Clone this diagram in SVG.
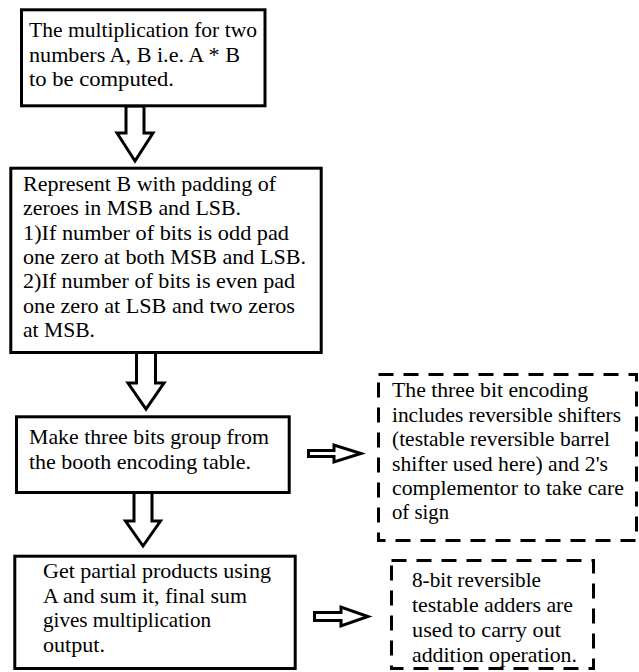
<svg xmlns="http://www.w3.org/2000/svg" width="639" height="672" viewBox="0 0 639 672">
<style>
.box{fill:#fff;stroke:#000;stroke-width:3}
.dbox{fill:#fff;stroke:#000;stroke-width:3;stroke-dasharray:15 10}
.arr{fill:#fff;stroke:#000;stroke-width:3;stroke-linejoin:miter}
text{font-family:"Liberation Serif","Times New Roman",serif;font-size:21.5px;fill:#000}
</style>
<rect width="639" height="672" fill="#fff"/>
<g id="connectors">
<polygon class="arr" points="126,106 144,106 144,133 153,133 135,161 117,133 126,133"/>
<polygon class="arr" points="136.5,352 155.5,352 155.5,383 164,383 146,409 128,383 136.5,383"/>
<polygon class="arr" points="134,492 152,492 152,521 160.5,521 143,546 125.5,521 134,521"/>
<polygon class="arr" points="308.5,450.5 334,450.5 334,445 361,453.5 334,462 334,456.5 308.5,456.5"/>
<polygon class="arr" points="314.5,612.5 341,612.5 341,607 368,616.5 341,626 341,620.5 314.5,620.5"/>
</g>
<g id="node1" font-family="Liberation Serif, serif">
<rect class="box" x="21.5" y="9.8" width="243.5" height="96"/>
<text x="29" y="37" textLength="228" lengthAdjust="spacingAndGlyphs">The multiplication for two</text>
<text x="29" y="61.5" textLength="211" lengthAdjust="spacingAndGlyphs">numbers A, B i.e. A * B</text>
<text x="29" y="86" textLength="145" lengthAdjust="spacingAndGlyphs">to be computed.</text>
</g>
<g id="node2" font-family="Liberation Serif, serif">
<rect class="box" x="10.8" y="168.2" width="310.4" height="184.3"/>
<text x="23" y="190.7" textLength="253" lengthAdjust="spacingAndGlyphs">Represent B with padding of</text>
<text x="23" y="215" textLength="218" lengthAdjust="spacingAndGlyphs">zeroes in MSB and LSB.</text>
<text x="23" y="239.5" textLength="266" lengthAdjust="spacingAndGlyphs">1)If number of bits is odd pad</text>
<text x="23" y="263.5" textLength="283" lengthAdjust="spacingAndGlyphs">one zero at both MSB and LSB.</text>
<text x="23" y="288" textLength="272" lengthAdjust="spacingAndGlyphs">2)If number of bits is even pad</text>
<text x="23" y="312.5" textLength="272" lengthAdjust="spacingAndGlyphs">one zero at LSB and two zeros</text>
<text x="23" y="336.7" textLength="72" lengthAdjust="spacingAndGlyphs">at MSB.</text>
</g>
<g id="node3" font-family="Liberation Serif, serif">
<rect class="box" x="16.5" y="416.8" width="272.7" height="75.7"/>
<text x="29" y="444" textLength="240" lengthAdjust="spacingAndGlyphs">Make three bits group from</text>
<text x="29" y="468.5" textLength="222" lengthAdjust="spacingAndGlyphs">the booth encoding table.</text>
</g>
<g id="note1" font-family="Liberation Serif, serif">
<rect class="dbox" x="378.5" y="374.5" width="258" height="166"/>
<text x="392" y="397.3" textLength="196" lengthAdjust="spacingAndGlyphs">The three bit encoding</text>
<text x="392" y="422" textLength="229" lengthAdjust="spacingAndGlyphs">includes reversible shifters</text>
<text x="392" y="446" textLength="218" lengthAdjust="spacingAndGlyphs">(testable reversible barrel</text>
<text x="392" y="470.7" textLength="216" lengthAdjust="spacingAndGlyphs">shifter used here) and 2's</text>
<text x="392" y="495" textLength="232" lengthAdjust="spacingAndGlyphs">complementor to take care</text>
<text x="392" y="519.3" textLength="57" lengthAdjust="spacingAndGlyphs">of sign</text>
</g>
<g id="node4" font-family="Liberation Serif, serif">
<rect class="box" x="14.8" y="556.2" width="280.4" height="112.3"/>
<text x="43" y="577.7" textLength="228" lengthAdjust="spacingAndGlyphs">Get partial products using</text>
<text x="43" y="603" textLength="204" lengthAdjust="spacingAndGlyphs">A and sum it, final sum</text>
<text x="43" y="627.3" textLength="168" lengthAdjust="spacingAndGlyphs">gives multiplication</text>
<text x="43" y="651.7" textLength="62" lengthAdjust="spacingAndGlyphs">output.</text>
</g>
<g id="note2" font-family="Liberation Serif, serif">
<rect class="dbox" x="391.5" y="560.5" width="202" height="108"/>
<text x="412" y="586.7" textLength="129" lengthAdjust="spacingAndGlyphs">8-bit reversible</text>
<text x="412" y="612.3" textLength="161" lengthAdjust="spacingAndGlyphs">testable adders are</text>
<text x="412" y="636.7" textLength="149" lengthAdjust="spacingAndGlyphs">used to carry out</text>
<text x="412" y="661.5" textLength="165" lengthAdjust="spacingAndGlyphs">addition operation.</text>
</g>
</svg>
